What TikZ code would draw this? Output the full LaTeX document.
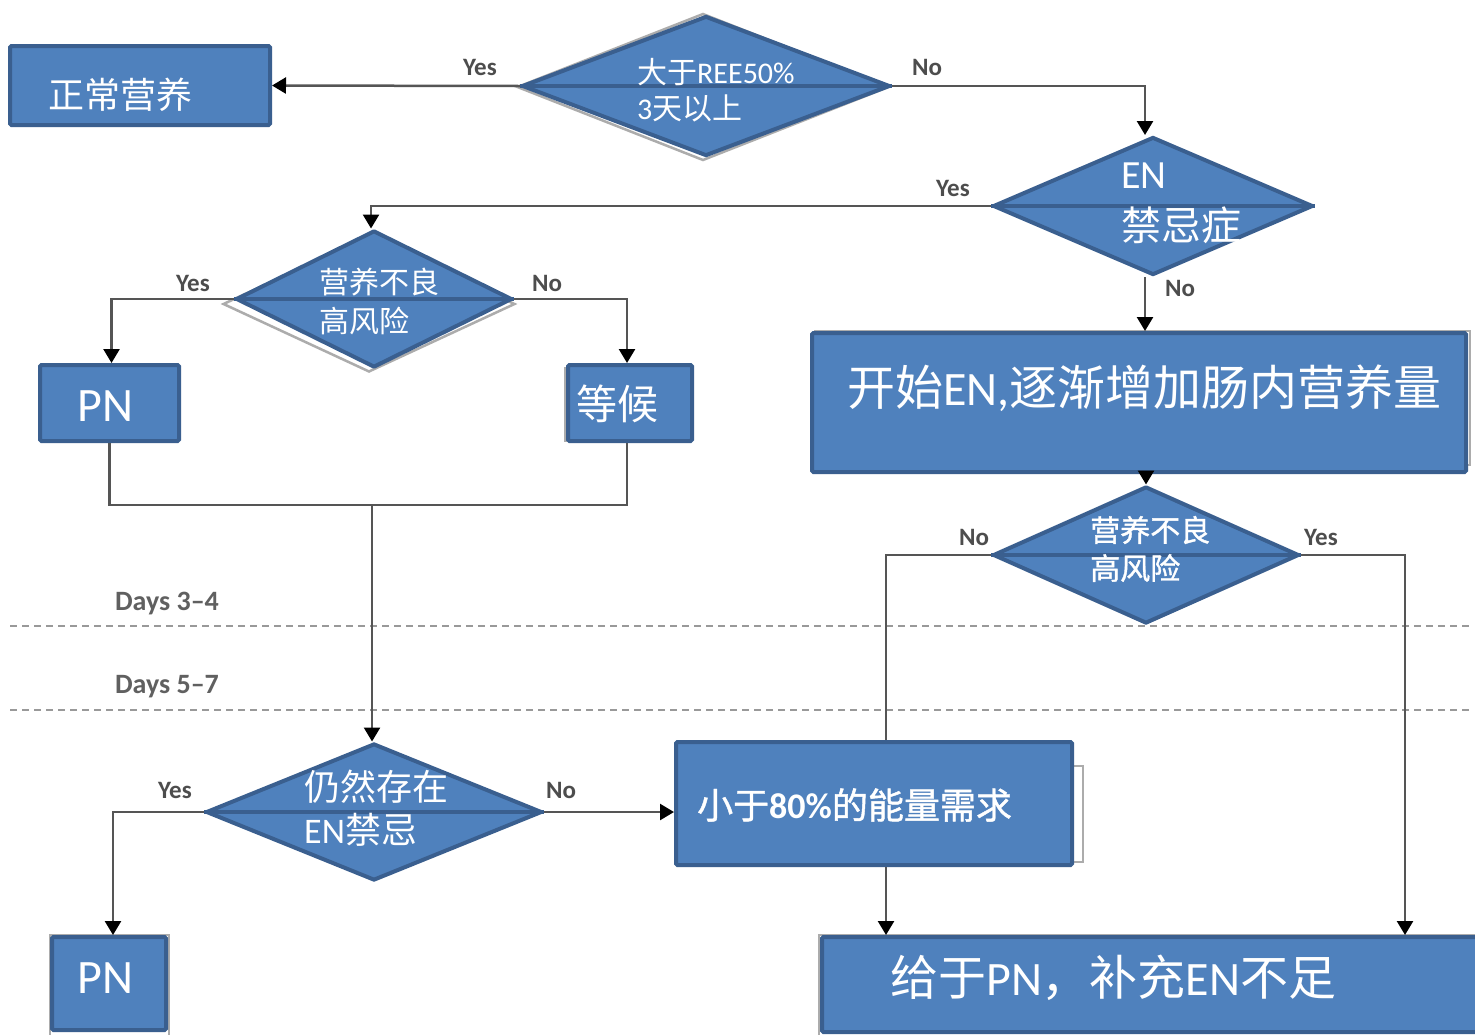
\documentclass[tikz,border=0pt]{standalone}
\usepackage{fontspec}
\setmainfont{Carlito}
\newfontfamily\cjk{Noto Sans CJK SC}
\newfontfamily\cjkb[FakeBold=1.2]{Noto Sans CJK SC}
\usetikzlibrary{shapes.geometric,arrows.meta}
\definecolor{boxfill}{HTML}{4F81BD}
\definecolor{boxline}{HTML}{3A5F8F}
\definecolor{connc}{HTML}{555555}
\definecolor{lblc}{HTML}{4D4D4D}
\newcommand\myfs[1]{\fontsize{#1}{#1}\selectfont}
\tikzset{
  box/.style={rectangle, fill=boxfill, draw=boxline, line width=4pt, rounded corners=1.5pt, inner sep=0pt},
  dia/.style={diamond, fill=boxfill, draw=boxline, line width=4pt, line join=round, inner sep=0pt},
  diashadow/.style={diamond, fill=white, draw=gray!65, line width=2.5pt, inner sep=0pt},
  boxshadow/.style={draw=gray!65, line width=2.5pt},
  midline/.style={draw=boxline, line width=4pt},
  txt/.style={text=white, inner sep=0pt, anchor=west},
  lbl/.style={text=lblc, inner sep=0pt, font=\bfseries\myfs{25}},
  conn/.style={draw=connc, line width=2.5pt},
  arr/.style={conn, -{Triangle[width=16pt,length=14pt,fill=black,color=black]}},
  sep/.style={draw=gray!80, line width=2.5pt, dash pattern=on 7pt off 5pt},
}
\begin{document}
\begin{tikzpicture}[x=1pt,y=-1pt]
\useasboundingbox[fill=white] (0,0) rectangle (1475,1034);

% separators
\draw[sep] (10,626) -- (1470,626);
\draw[sep] (10,710) -- (1470,710);
\node[lbl, text=gray!75!black, font=\bfseries\myfs{28}] (days34) at (167,604) {Days 3–4};
\node[lbl, text=gray!75!black, font=\bfseries\myfs{28}] (days57) at (167,687) {Days 5–7};

% shadows
\node[diashadow, minimum width=372pt, minimum height=147pt] (s1) at (703,87) {};
\node[diashadow, minimum width=292pt, minimum height=136pt] (s3) at (369,304) {};
\draw[boxshadow] (1062,766) rectangle (1083,862);
\draw[boxshadow] (819,935) rectangle (1480,1040);
\draw[boxshadow] (50,935) rectangle (169,1040);
\draw[boxshadow] (565,368) rectangle (600,441);
\draw[boxshadow] (815,331) rectangle (1470,465);

% nodes
\node[box, minimum width=260pt, minimum height=79pt] (b1) at (140,85.5) {};
\node[txt, font=\cjk\myfs{36}] (b1t) at (48,95) {正常营养};

\node[dia, minimum width=368pt, minimum height=140pt] (d1) at (706,86) {};
\draw[midline] (d1.west) -- (d1.east);
\node[txt, font=\myfs{30}] (d1a) at (637,72) {{\cjk 大于}REE50\%};
\node[txt, font=\myfs{30}] (d1b) at (637,108) {3{\cjk 天以上}};

\node[dia, minimum width=320pt, minimum height=138pt] (d2) at (1153,206) {};
\draw[midline] (d2.west) -- (d2.east);
\node[txt, font=\myfs{40}] (d2a) at (1121,176) {EN};
\node[txt, font=\cjk\myfs{40}] (d2b) at (1121,225) {禁忌症};

\node[dia, minimum width=276pt, minimum height=137pt] (d3) at (374,299) {};
\draw[midline] (d3.west) -- (d3.east);
\node[txt, font=\cjk\myfs{30}] (d3a) at (319,282) {营养不良};
\node[txt, font=\cjk\myfs{30}] (d3b) at (319,321) {高风险};

\node[box, minimum width=139pt, minimum height=76pt] (pn1) at (109.5,403) {};
\node[txt, font=\myfs{48}] (pn1t) at (77,406) {PN};

\node[box, minimum width=124pt, minimum height=76pt] (wait) at (630,403) {};
\node[txt, font=\cjk\myfs{41}] (waitt) at (576,404) {等候};

\node[box, minimum width=654pt, minimum height=139pt] (en) at (1139,402.5) {};
\node[txt, font=\myfs{48}] (ent) at (847,388) {{\cjk 开始}EN,{\cjk 逐渐增加肠内营养量}};

\node[dia, minimum width=306pt, minimum height=137pt] (d5) at (1146,555) {};
\draw[midline] (d5.west) -- (d5.east);
\node[txt, font=\cjkb\myfs{30}] (d5a) at (1090,530) {营养不良};
\node[txt, font=\cjkb\myfs{30}] (d5b) at (1090,568) {高风险};

\node[dia, minimum width=336pt, minimum height=137pt] (d4) at (374,812) {};
\draw[midline] (d4.west) -- (d4.east);
\node[txt, font=\cjk\myfs{36}] (d4a) at (304,787) {仍然存在};
\node[txt, font=\myfs{36}] (d4b) at (304,830) {EN{\cjk 禁忌}};

\node[box, minimum width=396pt, minimum height=123pt] (low) at (874,803.5) {};
\node[txt, font=\myfs{36}] (lowt) at (697,805) {{\cjkb 小于}\textbf{80\%}{\cjkb 的能量需求}};

\node[box, minimum width=114pt, minimum height=93pt] (pn2) at (109,983.5) {};
\node[txt, font=\myfs{48}] (pn2t) at (77,978) {PN};

\node[box, minimum width=660pt, minimum height=95pt] (bot) at (1152,984.5) {};
\node[txt, font=\myfs{48}] (bott) at (890,978) {{\cjk 给于}PN{\cjk ，补充}EN{\cjk 不足}};

% connectors
\draw[arr] (d1.west) -- (b1.east);
\draw[arr] (d1.east) -| ([xshift=-8pt]d2.north);
\draw[arr] (d2.west) -| ([xshift=-3pt]d3.north);
\draw[arr] ([xshift=-8pt]d2.south) -- ([xshift=-8pt]d2.south |- en.north);
\draw[arr] (d3.west) -| ([xshift=2pt]pn1.north);
\draw[arr] (d3.east) -| ([xshift=-3pt]wait.north);
\coordinate (j) at (372,505);
\draw[conn] (pn1.south) |- (j) -| ([xshift=-3pt]wait.south);
\draw[arr] (j) -- (j |- d4.north);
\draw[arr] (d4.west) -| ([xshift=4pt]pn2.north);
\draw[arr] (d4.east) -- (d4.east -| low.west);
\draw[arr] (en.south -| d5.north) -- (d5.north);
\draw[conn] (d5.west) -| ([xshift=12pt]low.north);
\draw[arr] ([xshift=12pt]low.south) -- ([xshift=12pt]low.south |- bot.north);
\draw[arr] (d5.east) -| ([xshift=253pt]bot.north);

% branch labels
\node[lbl] (y1) at (480,67) {Yes};
\node[lbl] (n1) at (927,67) {No};
\node[lbl] (y2) at (953,188) {Yes};
\node[lbl] (n2) at (1180,288) {No};
\node[lbl] (y3) at (193,283) {Yes};
\node[lbl] (n3) at (547,283) {No};
\node[lbl] (n5) at (974,537) {No};
\node[lbl] (y5) at (1321,537) {Yes};
\node[lbl] (y4) at (175,790) {Yes};
\node[lbl] (n4) at (561,790) {No};
\end{tikzpicture}
\end{document}
